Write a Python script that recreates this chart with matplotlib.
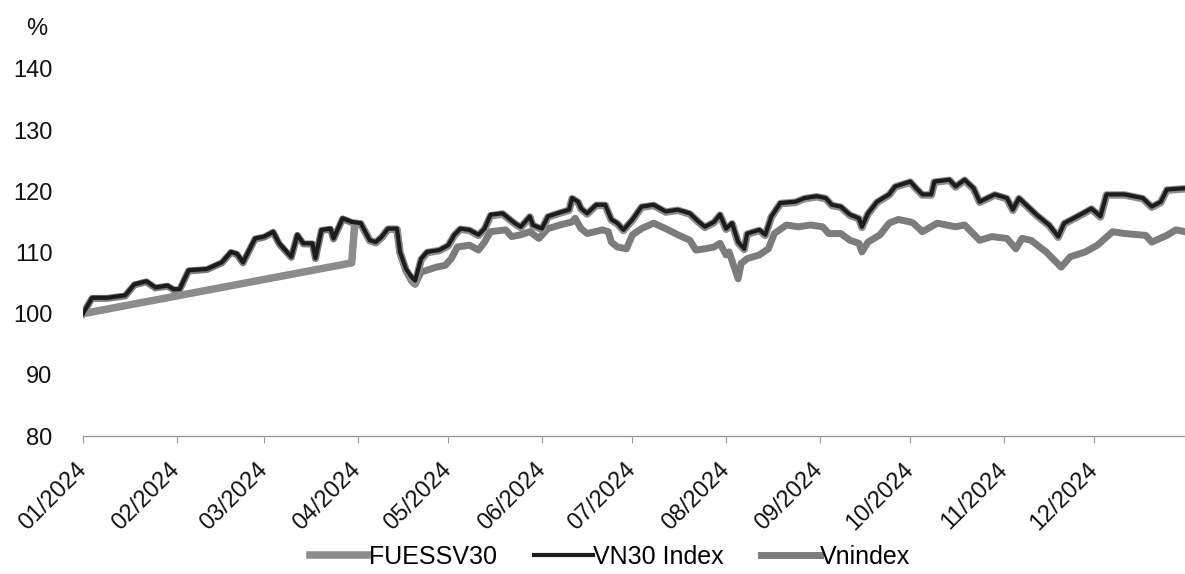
import matplotlib
matplotlib.use("Agg")
import matplotlib.pyplot as plt
import matplotlib.dates as mdates
import pandas as pd

# values (% of 01/2024 level)
vn30_dates = [
    "01-01", "01-04", "01-09", "01-15", "01-18", "01-22", "01-25", "01-29", "01-31", "02-02",
    "02-05", "02-11", "02-16", "02-19", "02-21", "02-23", "02-27", "03-01", "03-04", "03-06",
    "03-10", "03-12", "03-14", "03-17", "03-18", "03-20", "03-23", "03-24", "03-26", "03-27",
    "03-30", "04-02", "04-05", "04-07", "04-09", "04-11", "04-14", "04-15", "04-17", "04-19",
    "04-20", "04-22", "04-24", "04-28", "05-01", "05-03", "05-05", "05-08", "05-11", "05-13",
    "05-15", "05-19", "05-21", "05-23", "05-25", "05-28", "05-29", "06-01", "06-03", "06-06",
    "06-10", "06-11", "06-13", "06-14", "06-16", "06-19", "06-22", "06-24", "06-26", "06-28",
    "07-01", "07-04", "07-08", "07-12", "07-16", "07-20", "07-23", "07-25", "07-28", "07-30",
    "08-01", "08-03", "08-05", "08-07", "08-08", "08-12", "08-14", "08-16", "08-19", "08-24",
    "08-27", "08-31", "09-03", "09-05", "09-08", "09-11", "09-14", "09-15", "09-17", "09-20",
    "09-24", "09-26", "10-01", "10-03", "10-05", "10-08", "10-09", "10-14", "10-16", "10-19",
    "10-22", "10-24", "10-29", "11-02", "11-04", "11-06", "11-09", "11-12", "11-16", "11-19",
    "11-21", "11-26", "11-30", "12-03", "12-05", "12-11", "12-17", "12-20", "12-23", "12-25",
    "12-31",
]
vn30 = [
    100.0, 102.6, 102.6, 103.0, 104.8, 105.3, 104.3, 104.6, 104.0, 104.0,
    107.1, 107.3, 108.4, 110.1, 109.8, 108.4, 112.3, 112.6, 113.4, 111.5,
    109.3, 112.9, 111.5, 111.5, 109.1, 113.7, 113.9, 112.3, 114.5, 115.6,
    115.0, 114.8, 112.0, 111.7, 112.6, 113.9, 113.9, 110.1, 107.3, 105.9,
    105.4, 109.0, 110.1, 110.4, 111.2, 112.9, 113.9, 113.7, 112.9, 113.9,
    116.2, 116.4, 115.6, 114.8, 114.2, 115.9, 114.5, 113.9, 115.9, 116.4,
    117.0, 118.9, 118.3, 117.2, 116.4, 117.8, 117.8, 115.4, 114.8, 113.7,
    115.4, 117.5, 117.8, 116.7, 117.0, 116.4, 115.0, 114.2, 115.0, 116.2,
    113.9, 114.8, 111.7, 110.6, 113.1, 113.7, 112.9, 115.9, 118.1, 118.3,
    118.9, 119.2, 118.9, 117.8, 117.5, 116.2, 115.6, 114.2, 116.4, 118.3,
    119.5, 120.8, 121.6, 120.5, 119.5, 119.5, 121.6, 121.9, 120.8, 121.9,
    120.5, 118.3, 119.5, 118.9, 117.0, 118.9, 117.5, 116.1, 114.5, 112.6,
    114.8, 116.1, 117.2, 115.9, 119.5, 119.5, 118.9, 117.5, 118.3, 120.3,
    120.5,
]

fuessv30_dates = [
    "01-01", "03-30", "03-31", "04-02", "04-05", "04-07", "04-09", "04-11", "04-14", "04-15",
    "04-17", "04-19", "04-20", "04-22", "04-24", "04-28", "05-01", "05-03", "05-05", "05-08",
    "05-11", "05-13", "05-15", "05-19", "05-21", "05-23", "05-25", "05-28", "05-29", "06-01",
    "06-03", "06-06", "06-10", "06-11", "06-13", "06-14", "06-16", "06-19", "06-22", "06-24",
    "06-26", "06-28", "07-01", "07-04", "07-08", "07-12", "07-16", "07-20", "07-23", "07-25",
    "07-28", "07-30", "08-01", "08-03", "08-05", "08-07", "08-08", "08-12", "08-14", "08-16",
    "08-19", "08-24", "08-27", "08-31", "09-03", "09-05", "09-08", "09-11", "09-14", "09-15",
    "09-17", "09-20", "09-24", "09-26", "10-01", "10-03", "10-05", "10-08", "10-09", "10-14",
    "10-16", "10-19", "10-22", "10-24", "10-29", "11-02", "11-04", "11-06", "11-09", "11-12",
    "11-16", "11-19", "11-21", "11-26", "11-30", "12-03", "12-05", "12-11", "12-17", "12-20",
    "12-23", "12-25", "12-31",
]
fuessv30 = [
    100.0, 108.3, 114.6, 114.7, 112.0, 111.6, 112.5, 113.8, 113.8, 110.0,
    107.1, 105.6, 104.9, 108.8, 110.0, 110.3, 111.1, 112.8, 113.8, 113.6,
    112.8, 113.8, 116.0, 116.3, 115.5, 114.7, 114.1, 115.8, 114.4, 113.8,
    115.8, 116.3, 116.9, 118.8, 118.2, 117.1, 116.3, 117.7, 117.7, 115.3,
    114.7, 113.6, 115.3, 117.4, 117.7, 116.6, 116.9, 116.3, 114.9, 114.1,
    114.9, 116.1, 113.8, 114.7, 111.6, 110.5, 113.0, 113.6, 112.8, 115.8,
    118.0, 118.2, 118.8, 119.1, 118.8, 117.7, 117.4, 116.1, 115.5, 114.1,
    116.3, 118.2, 119.4, 120.7, 121.5, 120.4, 119.4, 119.4, 121.5, 121.8,
    120.7, 121.8, 120.4, 118.2, 119.4, 118.8, 116.9, 118.8, 117.4, 116.0,
    114.4, 112.5, 114.7, 116.0, 117.1, 115.8, 119.4, 119.4, 118.8, 117.4,
    118.2, 120.2, 120.4,
]

vnindex_dates = [
    "01-01", "01-04", "01-09", "01-15", "01-18", "01-22", "01-25", "01-29", "01-31", "02-02",
    "02-05", "02-11", "02-16", "02-19", "02-21", "02-23", "02-27", "03-01", "03-04", "03-06",
    "03-10", "03-12", "03-14", "03-17", "03-18", "03-20", "03-23", "03-24", "03-26", "03-27",
    "03-30", "04-02", "04-05", "04-07", "04-09", "04-11", "04-14", "04-15", "04-17", "04-19",
    "04-20", "04-22", "04-27", "04-30", "05-02", "05-04", "05-08", "05-11", "05-13", "05-15",
    "05-20", "05-22", "05-25", "05-28", "05-31", "06-03", "06-07", "06-11", "06-12", "06-14",
    "06-16", "06-21", "06-23", "06-24", "06-26", "06-29", "07-01", "07-04", "07-08", "07-12",
    "07-16", "07-20", "07-22", "07-25", "07-28", "07-30", "08-01", "08-02", "08-05", "08-06",
    "08-08", "08-12", "08-15", "08-17", "08-21", "08-25", "08-29", "09-02", "09-04", "09-08",
    "09-11", "09-14", "09-15", "09-17", "09-21", "09-24", "09-27", "10-01", "10-02", "10-05",
    "10-10", "10-16", "10-19", "10-24", "10-28", "11-02", "11-05", "11-07", "11-10", "11-15",
    "11-20", "11-23", "11-28", "12-02", "12-07", "12-11", "12-18", "12-20", "12-25", "12-28",
    "12-31",
]
vnindex = [
    100.0, 102.5, 102.5, 102.9, 104.7, 105.2, 104.2, 104.5, 103.9, 103.9,
    107.0, 107.2, 108.3, 110.0, 109.7, 108.3, 112.2, 112.5, 113.3, 111.4,
    109.2, 112.8, 111.4, 111.4, 109.0, 113.6, 113.8, 112.2, 114.4, 115.5,
    114.9, 114.7, 111.9, 111.6, 112.5, 113.8, 113.8, 110.0, 107.0, 105.2,
    104.8, 106.8, 107.6, 107.9, 109.0, 110.9, 111.2, 110.4, 111.7, 113.4,
    113.7, 112.6, 112.9, 113.4, 112.3, 113.9, 114.5, 115.0, 115.6, 113.9,
    113.1, 113.7, 113.4, 111.7, 110.9, 110.6, 112.9, 113.9, 114.8, 113.9,
    112.9, 112.0, 110.4, 110.6, 110.9, 111.5, 109.6, 110.1, 105.7, 108.2,
    109.0, 109.6, 110.6, 113.1, 114.5, 114.2, 114.5, 114.2, 113.1, 113.1,
    112.0, 111.5, 110.1, 111.7, 112.9, 114.8, 115.4, 115.0, 114.8, 113.4,
    114.8, 114.2, 114.5, 112.0, 112.6, 112.3, 110.6, 112.3, 112.0, 110.1,
    107.6, 109.3, 110.1, 111.2, 113.4, 113.1, 112.8, 111.7, 112.8, 113.7,
    113.4,
]

y_ticks = [80, 90, 100, 110, 120, 130, 140]


def to_dates(days):
    return pd.to_datetime(["2024-" + d for d in days])


plt.rcParams["font.family"] = ["Liberation Sans", "DejaVu Sans"]

fig = plt.figure(figsize=(11.85, 5.74), dpi=100)
ax = fig.add_axes([0.070, 0.2404, 0.930, 0.6394])

ax.plot(to_dates(vnindex_dates), vnindex, color="#7c7c7c", lw=5.0,
        label="Vnindex", zorder=2)
ax.plot(to_dates(fuessv30_dates), fuessv30, color="#8c8c8c", lw=5.4,
        label="FUESSV30", zorder=3)
ax.plot(to_dates(vn30_dates), vn30, color="#1c1c1c", lw=3.0,
        label="VN30 Index", zorder=4)

ax.set_ylim(80, 140)
ax.set_yticks(y_ticks)
ax.set_xlim(pd.Timestamp("2024-01-01"), pd.Timestamp("2024-12-31"))
ax.xaxis.set_major_locator(mdates.MonthLocator())
ax.xaxis.set_major_formatter(mdates.DateFormatter("%m/%Y"))

for side in ["top", "right", "left"]:
    ax.spines[side].set_visible(False)
ax.spines["bottom"].set_color("#9a9a9a")
ax.spines["bottom"].set_linewidth(1.0)

ax.tick_params(axis="y", length=0, pad=22, labelsize=17, labelcolor="#111111")
ax.tick_params(axis="x", length=5, color="#9a9a9a", pad=17, labelsize=17,
               labelcolor="#111111")
for lbl in ax.get_xticklabels():
    lbl.set_rotation(45)
    lbl.set_ha("right")
    lbl.set_va("center")
    lbl.set_rotation_mode("anchor")

fig.text(0.022, 0.95, "%", fontsize=17, color="#111111", va="center")

# legend order as in the source
handles, labels = ax.get_legend_handles_labels()
order = [1, 2, 0]
fig.legend([handles[i] for i in order], [labels[i] for i in order],
           loc="center", bbox_to_anchor=(0.515, 0.03), ncol=3,
           frameon=False, fontsize=18, handlelength=2.35, handletextpad=0.0,
           columnspacing=1.5)

fig.savefig("out.png", dpi=100)
